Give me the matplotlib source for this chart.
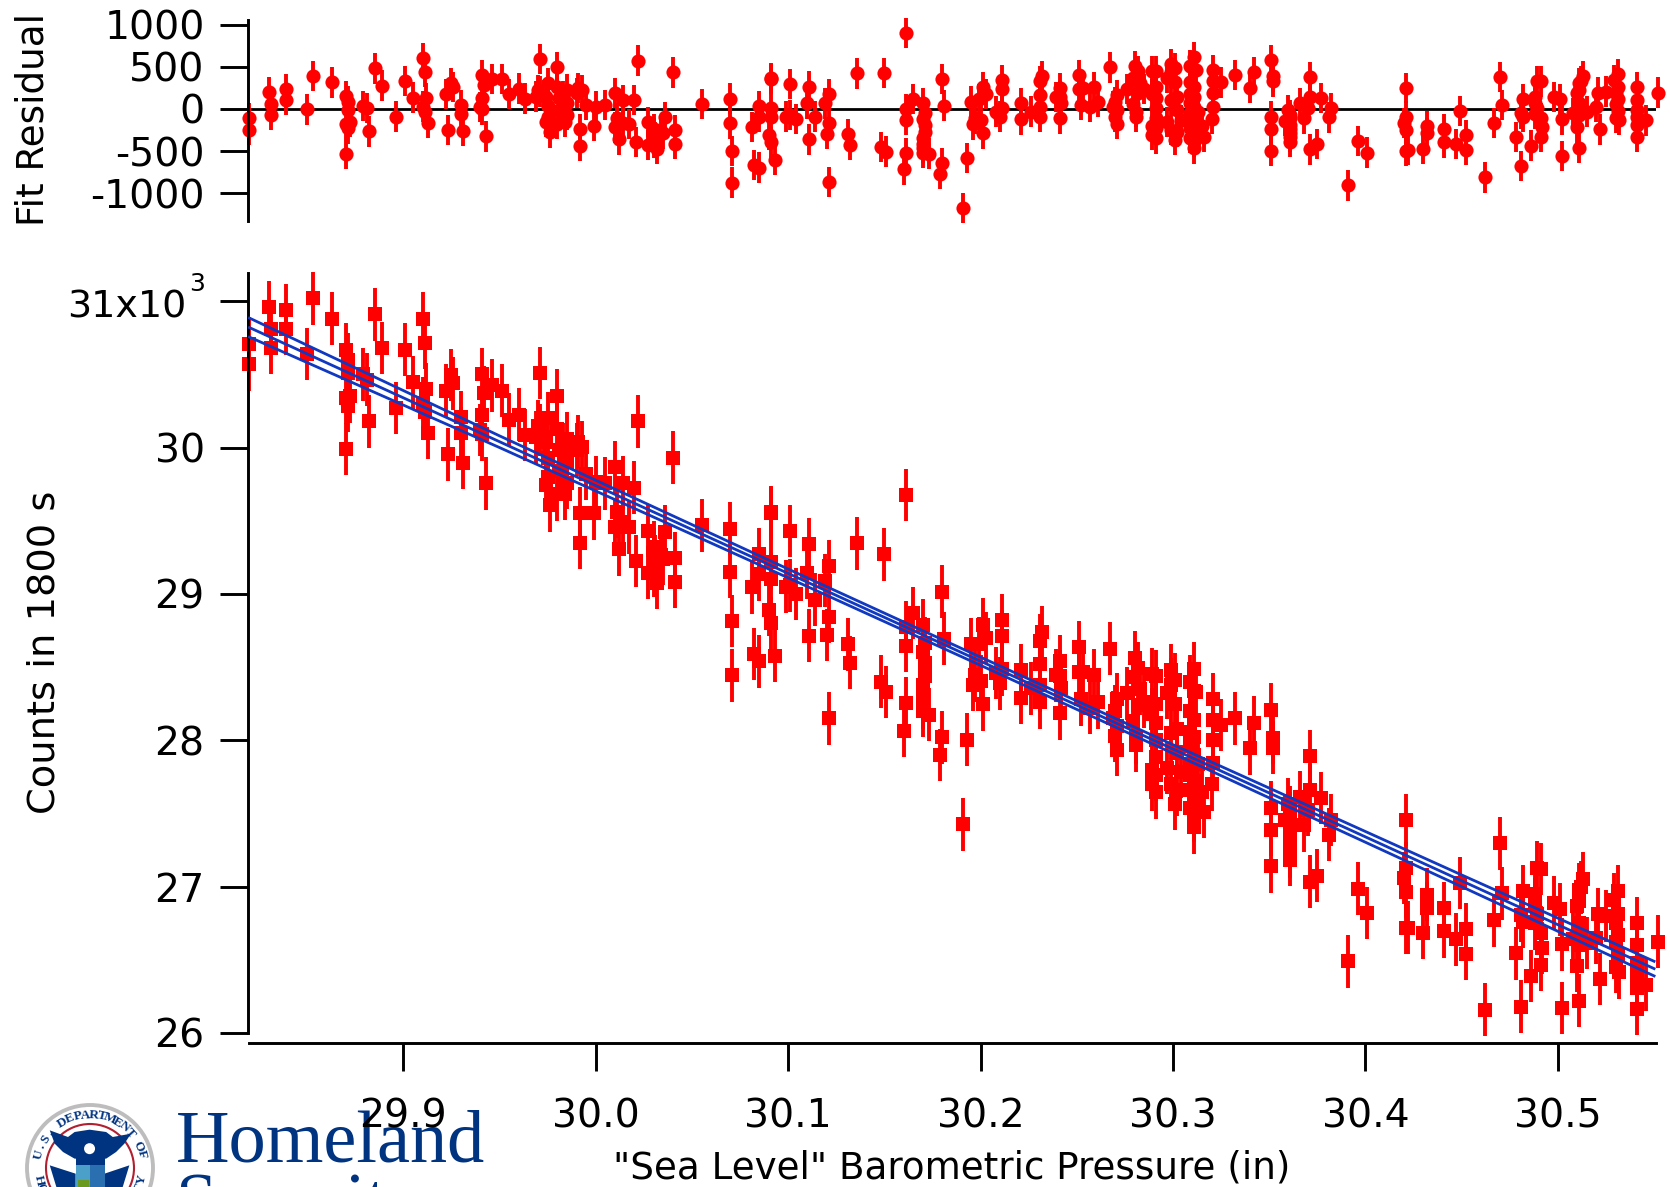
import numpy as np
import matplotlib
matplotlib.use("Agg")
import matplotlib.pyplot as plt
from matplotlib.patches import Circle, Ellipse, Polygon, Rectangle, Arc

W, H = 1670, 1187

# -------------------------------
# values
pressure = [
    29.820, 29.820, 29.830, 29.831, 29.831, 29.839, 29.839, 29.850, 29.853, 29.863,
    29.870, 29.871, 29.871, 29.870, 29.872, 29.871, 29.870, 29.879, 29.881, 29.882,
    29.889, 29.885, 29.896, 29.901, 29.905, 29.910, 29.911, 29.912, 29.910, 29.911,
    29.913, 29.922, 29.925, 29.926, 29.923, 29.930, 29.930, 29.931, 29.941, 29.942,
    29.941, 29.940, 29.941, 29.943, 29.946, 29.951, 29.955, 29.960, 29.963, 29.971,
    29.970, 29.969, 29.971, 29.973, 29.974, 29.974, 29.976, 29.980, 29.980, 29.981,
    29.983, 29.981, 29.980, 29.984, 29.991, 29.990, 29.993, 29.995, 29.992, 29.992,
    29.999, 30.000, 30.005, 30.010, 30.014, 30.011, 30.010, 30.014, 30.017, 30.012,
    30.020, 30.022, 30.027, 30.021, 30.027, 30.030, 30.031, 30.032, 30.034, 30.036,
    30.035, 30.041, 30.041, 30.040, 30.055, 30.070, 30.070, 30.071, 30.071, 30.081,
    30.082, 30.085, 30.085, 30.085, 30.091, 30.091, 30.091, 30.091, 30.090, 30.091,
    30.093, 30.101, 30.099, 30.101, 30.104, 30.110, 30.111, 30.111, 30.114, 30.119,
    30.121, 30.121, 30.120, 30.121, 30.131, 30.132, 30.136, 30.148, 30.150, 30.151,
    30.161, 30.161, 30.161, 30.161, 30.160, 30.165, 30.170, 30.171, 30.171, 30.171,
    30.170, 30.170, 30.173, 30.180, 30.181, 30.180, 30.179,
    30.191, 30.193, 30.195, 30.196, 30.197, 30.199, 30.201, 30.203, 30.201, 30.200,
    30.208, 30.211, 30.211, 30.211, 30.210, 30.221, 30.221, 30.226, 30.231, 30.232,
    30.231, 30.231, 30.231, 30.239, 30.241, 30.242, 30.241, 30.241, 30.251, 30.251,
    30.253, 30.252, 30.257, 30.259, 30.261, 30.267, 30.271, 30.269, 30.271, 30.271,
    30.276, 30.280, 30.282, 30.283, 30.282, 30.285, 30.281, 30.281, 30.291, 30.291,
    30.291, 30.291, 30.291, 30.291, 30.291, 30.297, 30.297, 30.301, 30.301, 30.302,
    30.301, 30.302, 30.302, 30.304, 30.311, 30.311, 30.312, 30.311, 30.311, 30.311,
    30.313, 30.311, 30.311, 30.311, 30.311, 30.315, 30.316, 30.321, 30.321, 30.321,
    30.321, 30.325, 30.332, 30.340, 30.342, 30.351, 30.352, 30.352, 30.351, 30.351,
    30.351, 30.358, 30.360, 30.361, 30.361, 30.361, 30.361, 30.366, 30.368, 30.371,
    30.371, 30.370, 30.371, 30.375, 30.377, 30.381, 30.382, 30.391, 30.396, 30.401,
    30.421, 30.421, 30.420, 30.421, 30.422, 30.421, 30.430, 30.432, 30.432, 30.441,
    30.441, 30.447, 30.449, 30.452, 30.452, 30.462, 30.467, 30.470, 30.471, 30.478,
    30.481, 30.481, 30.482, 30.482, 30.486, 30.489, 30.491, 30.489, 30.491, 30.492,
    30.491, 30.502, 30.502, 30.498, 30.501, 30.510, 30.511, 30.510, 30.512, 30.513,
    30.511, 30.508, 30.515, 30.520, 30.522, 30.521, 30.525, 30.529, 30.531, 30.531,
    30.531, 30.532, 30.531, 30.541, 30.541, 30.541, 30.541, 30.546, 30.552,
    # dense columns, second pass
    30.270, 30.270, 30.279, 30.279, 30.289, 30.289, 30.289, 30.289, 30.299, 30.299,
    30.299, 30.299, 30.309, 30.309, 30.309, 30.309, 30.309, 30.309, 30.309, 30.309,
    30.320, 30.488, 30.488, 30.488, 30.511, 30.511, 30.511, 30.511, 30.530, 30.530,
    30.530, 30.541, 30.541, 30.361, 30.361, 30.361, 29.975, 29.975, 29.975, 29.985,
    29.985, 29.985, 30.170, 30.170, 30.170, 30.030, 30.030,
]
fit_residual = [
    -110, -250, 200, 60, -70, 234, 107, -5, 393, 314,
    155, 87, -12, -179, -155, -230, -536, 36, 8, -266,
    278, 480, -91, 333, 135, 603, 441, 127, 28, -32,
    -163, 179, 306, 258, -250, 48, -60, -258, 405, 282,
    127, 20, -4, -326, 357, 353, 179, 242, 123, 592,
    226, 147, 206, 167, 147, -151, -278, 492, 266, 127,
    147, -12, -179, -151, 246, 187, 226, 48, -238, -437,
    -198, 28, 48, 187, 107, -111, -218, -171, -179, -361,
    107, 572, -151, -389, -429, -290, -330, -476, -270, -99,
    -290, -250, -409, 433, 60, 123, -171, -500, -873, -210,
    -663, -695, 36, -91, 357, 365, 16, -99, -310, -397,
    -607, 294, -91, -71, -119, 67, 266, -361, -91, 67,
    179, -171, -298, -865, -302, -421, 421, -453, 429, -504,
    901, -4, -131, -520, -715, 119, 67, -52, -191, -270,
    -409, -520, -528, 353, 40, -639, -766,
    -1171, -580, 87, -183, -111, 115, 258, 179, -290, -131,
    -32, 345, 234, 8, -91, 67, -123, -32, 326, 393,
    167, 20, -91, 139, 246, 75, -111, 147, 405, 234,
    246, 48, 20, 262, 87, 492, 167, 28, -12, -179,
    234, 504, 445, 306, 187, 234, -32, -91, 445, 258,
    127, 8, -111, -230, -349, 365, -151, 484, 314, 147,
    -369, -270, -12, -131, 615, 464, 464, 266, 147, 28,
    -32, -151, -270, -389, -468, -202, -333, 464, 326, 187,
    28, 314, 401, 246, 433, 576, 385, 326, -91, -242,
    -496, -139, -12, -71, -191, -282, -389, 67, -111, 373,
    147, 8, -480, -413, 131, -99, 8, -905, -381, -516,
    246, -91, -163, -250, -488, -496, -476, -202, -290, -238,
    -397, -417, -24, -314, -488, -810, -167, 377, 44, -330,
    -675, -52, 119, -91, -433, 326, 326, 8, -111, -210,
    -330, -560, -123, 139, 115, -218, -457, 187, 326, 393,
    306, -52, -32, 28, -242, 195, 206, 345, 417, 115,
    -24, -131, 258, 258, 107, -191, -330, -135, 195,
    # dense columns, second pass
    80, -90, 364, 64, 444, 174, -206, -306, 534, 434,
    104, -246, 314, 174, 74, -46, -126, -226, -346, 514,
    -120, 138, 68, -62, 226, 76, 6, -74, 190, 60,
    -110, -14, -94, -104, -234, -334, 310, 40, -90, 230,
    70, -70, -120, -340, -460, -240, -400,
]
counts = [
    30710, 30570, 30960, 30810, 30680, 30940, 30810, 30640, 31020, 30880,
    30670, 30600, 30510, 30340, 30350, 30285, 29990, 30500, 30465, 30180,
    30680, 30910, 30270, 30670, 30445, 30880, 30715, 30400, 30305, 30240,
    30100, 30390, 30495, 30440, 29955, 30210, 30100, 29895, 30500, 30375,
    30225, 30120, 30090, 29755, 30425, 30390, 30190, 30225, 30085, 30510,
    30145, 30070, 30120, 30070, 30040, 29745, 29605, 30355, 30125, 29985,
    29990, 29840, 29680, 29685, 30040, 29985, 30005, 29820, 29550, 29350,
    29550, 29765, 29755, 29865, 29760, 29560, 29460, 29490, 29455, 29305,
    29725, 30180, 29430, 29225, 29145, 29270, 29220, 29075, 29265, 29425,
    29240, 29245, 29085, 29930, 29470, 29445, 29150, 28815, 28445, 29045,
    28590, 28540, 29270, 29135, 29550, 29560, 29215, 29100, 28890, 28800,
    28575, 29430, 29050, 29060, 29000, 29145, 29340, 28715, 28960, 29090,
    29190, 28845, 28720, 28150, 28655, 28530, 29345, 28400, 29270, 28330,
    29675, 28775, 28645, 28255, 28065, 28870, 28785, 28665, 28525, 28440,
    28310, 28200, 28175, 29015, 28695, 28020, 27900,
    27425, 28005, 28655, 28380, 28445, 28660, 28790, 28700, 28245, 28405,
    28460, 28820, 28710, 28485, 28390, 28480, 28290, 28355, 28680, 28740,
    28520, 28375, 28260, 28445, 28540, 28360, 28185, 28440, 28635, 28465,
    28470, 28280, 28220, 28445, 28260, 28625, 28280, 28155, 28100, 27935,
    28320, 28565, 28495, 28350, 28240, 28265, 28020, 27965, 28440, 28250,
    28120, 28000, 27885, 27765, 27645, 28325, 27810, 28415, 28250, 28075,
    27565, 27660, 27915, 27785, 28490, 28340, 28330, 28140, 28020, 27900,
    27835, 27720, 27600, 27485, 27405, 27650, 27510, 28280, 28140, 28000,
    27845, 28105, 28150, 27945, 28120, 28210, 28015, 27950, 27540, 27390,
    27140, 27455, 27565, 27505, 27385, 27290, 27185, 27610, 27420, 27890,
    27660, 27525, 27035, 27075, 27605, 27355, 27455, 26490, 26985, 26820,
    27455, 27125, 27060, 26965, 26720, 26720, 26685, 26945, 26855, 26855,
    26695, 26640, 27025, 26710, 26540, 26160, 26770, 27295, 26955, 26545,
    26180, 26805, 26970, 26760, 26390, 27130, 27120, 26815, 26685, 26580,
    26465, 26170, 26605, 26890, 26845, 26460, 26220, 26865, 26995, 27055,
    26980, 26640, 26615, 26650, 26370, 26810, 26800, 26910, 26970, 26670,
    26530, 26415, 26815, 26750, 26600, 26305, 26165, 26330, 26625,
    # dense columns, second pass
    28200, 28030, 28430, 28130, 28450, 28180, 27800, 27700, 28480, 28380,
    28050, 27700, 28200, 28060, 27960, 27840, 27760, 27660, 27540, 28400,
    27700, 26950, 26880, 26750, 26900, 26750, 26680, 26600, 26750, 26620,
    26450, 26480, 26400, 27470, 27340, 27240, 30200, 29930, 29800, 30060,
    29900, 29760, 28600, 28380, 28260, 29320, 29160,
]
# error bar half length, read from the stems
count_err = 180

fit_x = [29.82, 29.95, 30.10, 30.20, 30.30, 30.45, 30.55]
fit_mid = [30820, 30040, 29140, 28540, 27940, 27040, 26440]
fit_upper = [30885, 30080, 29170, 28568, 27970, 27080, 26490]
fit_lower = [30755, 30000, 29110, 28512, 27910, 27000, 26390]

residual_ticks = [-1000, -500, 0, 500, 1000]
count_ticks = [26000, 27000, 28000, 29000, 30000, 31000]
count_tick_labels = ["26", "27", "28", "29", "30", ""]
pressure_ticks = [29.9, 30.0, 30.1, 30.2, 30.3, 30.4, 30.5]
pressure_tick_labels = ["29.9", "30.0", "30.1", "30.2", "30.3", "30.4", "30.5"]

RED = "#ff0000"
BLUE = "#1038c0"
NAVY = "#003380"
LABEL_SIZE = 28.4


def px_axes(left, top, right, bottom):
    return fig.add_axes([left / W, 1 - bottom / H, (right - left) / W, (bottom - top) / H])


def style_axis(ax):
    ax.set_facecolor("none")
    for side in ["top", "right"]:
        ax.spines[side].set_visible(False)
    for side in ["left", "bottom"]:
        ax.spines[side].set_linewidth(2.1)
    ax.tick_params(axis="both", length=20.5, width=2.1, labelsize=LABEL_SIZE)
    ax.tick_params(axis="y", pad=11)
    ax.tick_params(axis="x", pad=18.5)


fig = plt.figure(figsize=(W / 100, H / 100), dpi=100)

# -------------------------------
# logo, sits under everything else
lg = fig.add_axes([0, 0, 1, 1], zorder=-1)
lg.set_xlim(0, W)
lg.set_ylim(H, 0)
lg.axis("off")


def z(pts):
    return [(x / 3.015, 1087 + y / 3) for x, y in pts]


cx, cy = 90, 1168
lg.add_patch(Circle((cx, cy), 63, fc="white", ec="#bdbdbd", lw=2.8))
lg.add_patch(Arc((cx, cy), 88, 88, theta1=0, theta2=360, ec="#b02030", lw=1.5))
lg.add_patch(Polygon(z([(150, 130), (205, 150), (225, 135), (270, 128), (320, 135), (340, 150),
                        (395, 140), (375, 170), (350, 195), (320, 215), (225, 215), (190, 195),
                        (165, 170)]), fc=NAVY, ec="none"))
lg.add_patch(Polygon(z([(150, 235), (228, 260), (228, 300), (170, 300)]), fc=NAVY, ec="none"))
lg.add_patch(Polygon(z([(390, 235), (315, 260), (315, 300), (370, 300)]), fc=NAVY, ec="none"))
lg.add_patch(Ellipse((270 / 3.015, 1087 + 185 / 3), 11, 11, fc="white", ec="none"))
lg.add_patch(Rectangle((228 / 3.015, 1087 + 205 / 3), 29, 10, fc=NAVY, ec="none"))
lg.add_patch(Rectangle((228 / 3.015, 1087 + 235 / 3), 14, 22, fc="#4aa0c8", ec="none"))
lg.add_patch(Rectangle((271 / 3.015, 1087 + 235 / 3), 15, 22, fc="#2a70b0", ec="none"))
lg.add_patch(Rectangle((235 / 3.015, 1087 + 280 / 3), 11, 8, fc="#6a9a20", ec="none"))

upper_text = "U.S. DEPARTMENT OF"
lower_text = "HOMELAND SECURITY"
for ch, a in zip(upper_text, np.linspace(165, 15, len(upper_text))):
    r = np.radians(a)
    lg.text(cx + 53 * np.cos(r), cy - 53 * np.sin(r), ch, rotation=a - 90, ha="center", va="center",
            fontsize=9.5, family="Liberation Serif", weight="bold", color=NAVY)
for ch, a in zip(lower_text, np.linspace(193, 347, len(lower_text))):
    r = np.radians(a)
    lg.text(cx + 53 * np.cos(r), cy - 53 * np.sin(r), ch, rotation=a + 90, ha="center", va="center",
            fontsize=9.5, family="Liberation Serif", weight="bold", color=NAVY)

lg.text(176, 1162, "Homeland", fontsize=53.5, family="Liberation Serif", color=NAVY,
        ha="left", va="baseline")
lg.text(176, 1224, "Security", fontsize=53.5, family="Liberation Serif", color=NAVY,
        ha="left", va="baseline")

# -------------------------------
# residual panel
ax1 = px_axes(248.5, 20, 1656, 221)
style_axis(ax1)
ax1.axhline(0, color="black", lw=2.0, zorder=1)
ax1.errorbar(pressure, fit_residual, yerr=count_err, fmt="o", color=RED, ms=10.2, mew=0,
             elinewidth=2.8, capsize=0, clip_on=False, zorder=2)
ax1.set_xlim(29.8195, 30.551)
ax1.set_ylim(-1327, 1054)
ax1.spines["bottom"].set_visible(False)
ax1.set_xticks([])
ax1.set_yticks(residual_ticks)
ax1.set_yticklabels([str(t) for t in residual_ticks])
fig.text(33 / W, 1 - 120 / H, "Fit Residual", rotation=90, ha="center", va="center", fontsize=26.8)

# -------------------------------
# counts panel
ax2 = px_axes(248.5, 272.7, 1656, 1033)
style_axis(ax2)
ax2.errorbar(pressure, counts, yerr=count_err, fmt="s", color=RED, ms=10, mew=0,
             elinewidth=2.8, capsize=0, clip_on=False, zorder=2)
for band in [fit_upper, fit_mid, fit_lower]:
    ax2.plot(fit_x, band, color=BLUE, lw=2.0, zorder=3)
ax2.set_xlim(29.8195, 30.551)
ax2.set_ylim(26000, 31195)
ax2.spines["bottom"].set_position(("outward", 7.5))
ax2.set_xticks(pressure_ticks)
ax2.set_xticklabels(pressure_tick_labels)
ax2.set_yticks(count_ticks)
ax2.set_yticklabels(count_tick_labels)

lg.text(186, 307, "31x10", ha="right", va="center", fontsize=27.4)
lg.text(189, 284, "3", ha="left", va="center", fontsize=18)

fig.text(44.5 / W, 1 - 652 / H, "Counts in 1800 s", rotation=90, ha="center", va="center",
         fontsize=27.6)
fig.text(951.5 / W, 1 - 1168 / H, '"Sea Level" Barometric Pressure (in)', ha="center", va="center",
         fontsize=26.8)

fig.savefig("out.png", dpi=100)
